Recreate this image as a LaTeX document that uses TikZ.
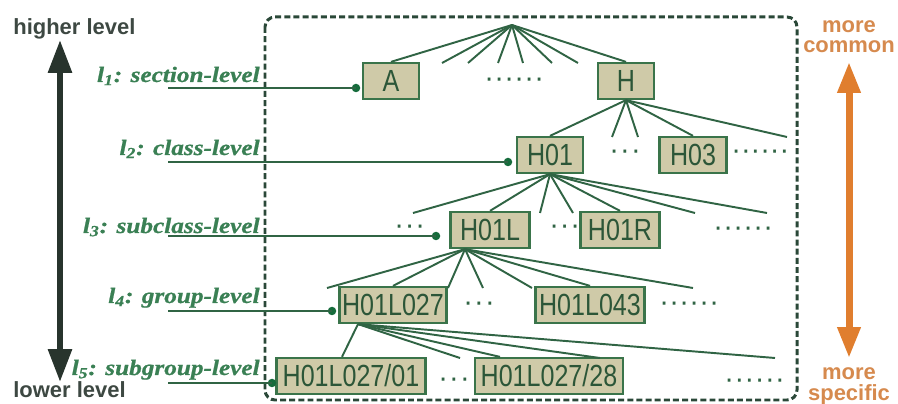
\documentclass[tikz,border=0pt]{standalone}
\usepackage{fontspec}
\setmainfont{Liberation Serif}
\newfontfamily\boxfont[FakeStretch=0.82]{Liberation Sans}
\newfontfamily\sansfont{Liberation Sans}
\newfontfamily\lblfont[FakeStretch=1.15, FakeBold=0.8]{Liberation Serif}
\usetikzlibrary{arrows.meta}
\definecolor{lblgreen}{RGB}{58,128,84}
\definecolor{treeline}{RGB}{48,100,68}
\definecolor{dotgreen}{RGB}{22,108,60}
\definecolor{boxfill}{RGB}{207,202,168}
\definecolor{boxline}{RGB}{58,116,74}
\definecolor{boxtxt}{RGB}{44,86,56}
\definecolor{framecol}{RGB}{42,72,56}
\definecolor{darkarr}{RGB}{40,52,45}
\definecolor{orangearr}{RGB}{224,126,46}
\definecolor{orangetxt}{RGB}{214,138,78}
\newcommand\spdots[2]{\foreach \k in {1,...,#1}{·\kern#2}}

\begin{document}
\begin{tikzpicture}[x=0.02cm, y=-0.02cm,
    codebox/.style={draw=boxline, fill=boxfill, line width=1.3pt, text=boxtxt,
      font=\boxfont\fontsize{17.4}{18}\selectfont, inner sep=0pt,
      minimum height=0.72cm, text height=0.44cm, text depth=0pt},
    branch/.style={draw=treeline, line width=1.1pt},
    lvline/.style={draw=treeline, line width=1.1pt},
    lvdot/.style={circle, fill=dotgreen, inner sep=0pt, minimum size=0.17cm},
    lvlabel/.style={text=lblgreen, font=\lblfont\bfseries\itshape\fontsize{12.5}{14}\selectfont,
      inner sep=0pt, anchor=base east},
    dotrow/.style={text=treeline, font=\sansfont\fontsize{16.5}{18}\selectfont,
      inner sep=0pt, anchor=west},
    sidetxt/.style={font=\sansfont\bfseries\fontsize{12.5}{14}\selectfont, inner sep=0pt}]
  \useasboundingbox (0,0) rectangle (898,404);

  % dashed frame round the tree
  \draw[framecol, line width=1.7pt, dash pattern=on 3.4pt off 1.8pt, rounded corners=0.2cm]
    (265,17) rectangle (797,400);

  % code boxes
  \node[codebox, minimum width=1.12cm] (A) at (391,81) {A};
  \node[codebox, minimum width=1.12cm] (H) at (626,81) {H};
  \node[codebox, minimum width=1.32cm] (H01) at (550,155) {H01};
  \node[codebox, minimum width=1.34cm] (H03) at (693,155) {H03};
  \node[codebox, minimum width=1.58cm] (H01L) at (490,230) {H01L};
  \node[codebox, minimum width=1.58cm] (H01R) at (620,230) {H01R};
  \node[codebox, minimum width=2.14cm] (H01L027) at (393,305) {H01L027};
  \node[codebox, minimum width=2.18cm] (H01L043) at (590,305) {H01L043};
  \node[codebox, minimum width=2.98cm] (H01L02701) at (351,376) {H01L027/01};
  \node[codebox, minimum width=2.96cm] (H01L02728) at (549,376) {H01L027/28};

  % level 1
  \coordinate (root) at (512,25);
  \draw[branch] (root) -- (A.north);
  \draw[branch] (root) -- (H.north);
  \foreach \x [count=\i] in {442,468,498,523,552,578}{
    \coordinate (a\i) at (\x,63);
    \draw[branch] (root) -- (a\i);
  }
  % level 2
  \draw[branch] (H.south) -- (H01.north);
  \draw[branch] (H.south) -- (H03.north);
  \foreach \x [count=\i] in {612,638,787}{
    \coordinate (b\i) at (\x,137);
    \draw[branch] (H.south) -- (b\i);
  }
  % level 3
  \draw[branch] (H01.south) -- (H01L.north);
  \draw[branch] (H01.south) -- (H01R.north);
  \foreach \x [count=\i] in {413,540,573,695,767}{
    \coordinate (c\i) at (\x,213);
    \draw[branch] (H01.south) -- (c\i);
  }
  % level 4
  \coordinate (H01Lfoot) at ([xshift=-0.5cm]H01L.south);
  \draw[branch] (H01Lfoot) -- (H01L027.north);
  \draw[branch] (H01Lfoot) -- (H01L043.north);
  \foreach \x [count=\i] in {327,448,483,532,693}{
    \coordinate (e\i) at (\x,288);
    \draw[branch] (H01Lfoot) -- (e\i);
  }
  % level 5
  \coordinate (H01L027foot) at ([xshift=-0.7cm]H01L027.south);
  \draw[branch] (H01L027foot) -- ([xshift=-0.18cm]H01L02701.north);
  \draw[branch] (H01L027foot) -- ([xshift=-0.98cm]H01L02728.north);
  \foreach \x [count=\i] in {460,600,775}{
    \coordinate (f\i) at (\x,358);
    \draw[branch] (H01L027foot) -- (f\i);
  }

  % elided siblings
  \node[dotrow] (dots1) at (484,83) {\spdots{6}{0.2pt}};
  \node[dotrow] (dots2) at (609,155) {\spdots{3}{0.7pt}};
  \node[dotrow] (dots3) at (731,155) {\spdots{6}{0pt}};
  \node[dotrow] (dots4) at (394,230) {\spdots{3}{0.5pt}};
  \node[dotrow] (dots5) at (549,230) {\spdots{3}{0.5pt}};
  \node[dotrow] (dots6) at (713,232) {\spdots{6}{0.2pt}};
  \node[dotrow] (dots7) at (463,307) {\spdots{3}{0.7pt}};
  \node[dotrow] (dots8) at (659,307) {\spdots{6}{0.2pt}};
  \node[dotrow] (dots9) at (438,383) {\spdots{3}{0.7pt}};
  \node[dotrow] (dots10) at (724,384) {\spdots{6}{0.3pt}};

  % level labels and their leaders
  \node[lvlabel] (lab1) at (260,82) {l\textsubscript{1}: section-level};
  \node[lvlabel] (lab2) at (260,155) {l\textsubscript{2}: class-level};
  \node[lvlabel] (lab3) at (260,233) {l\textsubscript{3}: subclass-level};
  \node[lvlabel] (lab4) at (260,303) {l\textsubscript{4}: group-level};
  \node[lvlabel] (lab5) at (260,375) {l\textsubscript{5}: subgroup-level};
  \foreach \n/\xa/\xb/\y in {1/168/356/88, 2/168/508/162, 3/168/436/236, 4/168/332/311, 5/168/272/383}{
    \coordinate (m\n) at (\xa,\y);
    \node[lvdot] (d\n) at (\xb,\y) {};
    \draw[lvline] (m\n) -- (d\n.center);
  }

  % left scale
  \node[sidetxt, text=darkarr!90, anchor=base west] (higher) at (13,35) {higher level};
  \node[sidetxt, text=darkarr!90, anchor=base west] (lower) at (13,398) {lower level};
  \coordinate (hi) at (60,40);
  \coordinate (lo) at (60,382);
  \draw[darkarr, line width=0.12cm,
    {Triangle[width=0.46cm,length=0.66cm]}-{Triangle[width=0.46cm,length=0.66cm]}] (hi) -- (lo);

  % right scale
  \node[sidetxt, text=orangetxt, anchor=base] (more1) at (849,33) {more};
  \node[sidetxt, text=orangetxt, anchor=base] (common) at (849,53) {common};
  \node[sidetxt, text=orangetxt, anchor=base] (more2) at (849,380) {more};
  \node[sidetxt, text=orangetxt, anchor=base] (specific) at (849,401) {specific};
  \coordinate (top) at (849,62);
  \coordinate (bot) at (849,358);
  \draw[orangearr, line width=0.14cm,
    {Triangle[width=0.44cm,length=0.62cm]}-{Triangle[width=0.44cm,length=0.62cm]}] (top) -- (bot);
\end{tikzpicture}
\end{document}
